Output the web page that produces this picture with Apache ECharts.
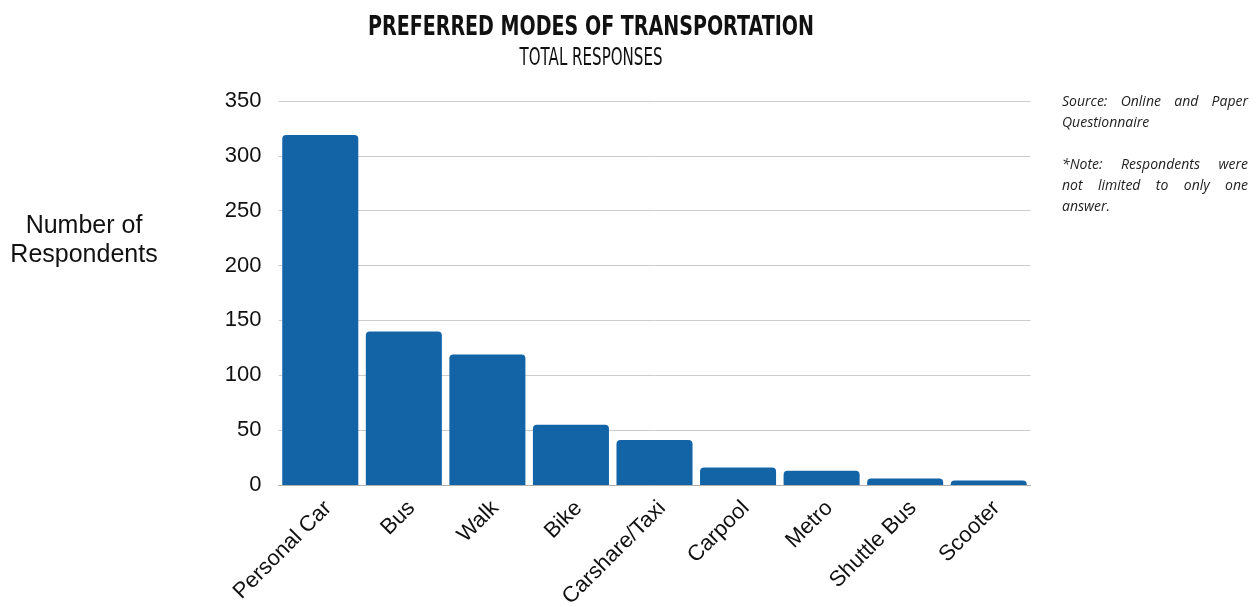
<!DOCTYPE html>
<html><head><meta charset="utf-8">
<script src="https://cdn.jsdelivr.net/npm/echarts@6/dist/echarts.min.js"></script>
<style>html,body{margin:0;padding:0;background:#fff}#c{width:1260px;height:607px}</style>
</head><body><div id="c"></div>
<script>
const categories = ['Personal Car','Bus','Walk','Bike','Carshare/Taxi','Carpool','Metro','Shuttle Bus','Scooter'];
const respondents = [319, 140, 119, 55, 41, 16, 13, 6, 4];
const yTicks = [0, 50, 100, 150, 200, 250, 300, 350];
const titleText = 'PREFERRED MODES OF TRANSPORTATION';
const subtitleText = 'TOTAL RESPONSES';
const yAxisTitle = 'Number of\nRespondents';
const noteLines = [
  ['Source:', 'Online', 'and', 'Paper'],
  ['Questionnaire'],
  [],
  ['*Note:', 'Respondents', 'were'],
  ['not', 'limited', 'to', 'only', 'one'],
  ['answer.']
];

const ctx = document.createElement('canvas').getContext('2d');
function measure(text, font) { ctx.font = font; return ctx.measureText(text).width; }

const chart = echarts.init(document.getElementById('c'));
const noteFont = 'italic 14px "Open Sans"';
const graphics = [];
const left = 1062, right = 1248, lineTop = 95, lineH = 21;
noteLines.forEach((words, li) => {
  const y = lineTop + li * lineH;
  if (!words.length) return;
  const justify = li !== 1 && li !== 5;
  if (!justify) {
    graphics.push({type:'text', x: left, y: y, style:{text: words.join(' '), font: noteFont, fill:'#222', verticalAlign:'top'}});
    return;
  }
  const widths = words.map(w => measure(w, noteFont));
  const total = widths.reduce((a,b)=>a+b,0);
  const gap = (right - left - total) / (words.length - 1);
  let x = left;
  words.forEach((w, i) => {
    graphics.push({type:'text', x: x, y: y, style:{text: w, font: noteFont, fill:'#222', verticalAlign:'top'}});
    x += widths[i] + gap;
  });
});

// condensed heading: DejaVu Sans squeezed horizontally to the reference width
const titleFont = 'bold 27px "DejaVu Sans"';
const subFont = '24px "DejaVu Sans"';
const titleScale = 446 / measure(titleText, titleFont);
const subScale = 143 / measure(subtitleText, subFont);
graphics.push({type:'text', x: 591, y: 28, scaleX: titleScale,
  style:{text: titleText, font: titleFont, fill:'#111', align:'center', verticalAlign:'middle'}});
graphics.push({type:'text', x: 591, y: 58.5, scaleX: subScale,
  style:{text: subtitleText, font: subFont, fill:'#111', align:'center', verticalAlign:'middle'}});
graphics.push({type:'text', x: 84, y: 241,
  style:{text: yAxisTitle, font:'25px "Liberation Sans"', fill:'#111', align:'center', verticalAlign:'middle', lineHeight: 29}});

chart.setOption({
  animation: false,
  graphic: graphics,
  grid: {left: 278.5, right: 229.5, top: 101, bottom: 122, containLabel: false, outerBoundsMode: 'none'},
  xAxis: {
    type: 'category', data: categories,
    axisLine: {lineStyle: {color: '#b0b0b0', width: 1}},
    axisTick: {show: false},
    axisLabel: {rotate: 45, fontFamily: '"Liberation Sans"', fontSize: 22, color: '#111', margin: 12,
      interval: 0, verticalAlign: 'top'}
  },
  yAxis: {
    type: 'value', min: 0, max: 350, interval: 50,
    axisLine: {show: false}, axisTick: {show: false},
    splitLine: {lineStyle: {color: '#cccccc', width: 1}},
    axisLabel: {fontFamily: '"Liberation Sans"', fontSize: 22, color: '#111', margin: 17,
      formatter: v => yTicks.includes(v) ? String(v) : ''}
  },
  series: [{
    type: 'bar', data: respondents, barCategoryGap: '9%',
    itemStyle: {color: '#1264a6', borderRadius: [4,4,0,0]}
  }]
});
</script></body></html>
